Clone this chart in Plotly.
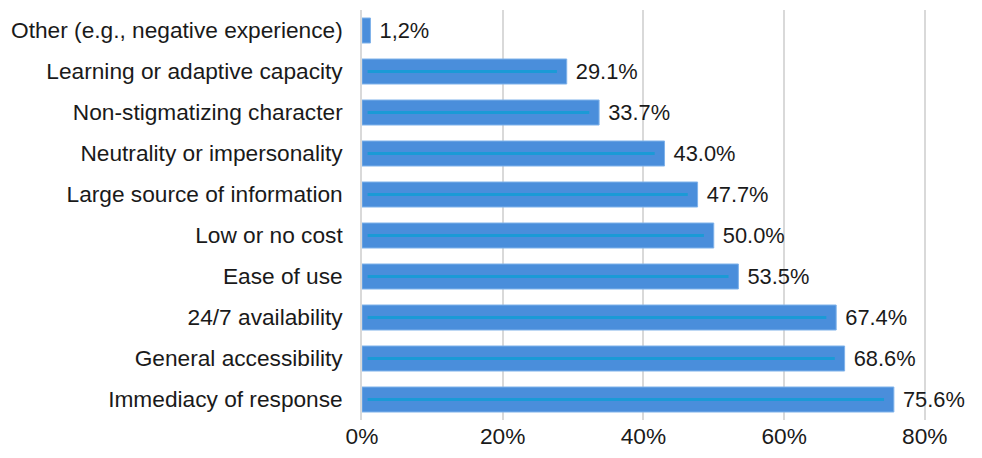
import plotly.graph_objects as go

categories = [
    "Other (e.g., negative experience)",
    "Learning or adaptive capacity",
    "Non-stigmatizing character",
    "Neutrality or impersonality",
    "Large source of information",
    "Low or no cost",
    "Ease of use",
    "24/7 availability",
    "General accessibility",
    "Immediacy of response",
]
values = [1.2, 29.1, 33.7, 43.0, 47.7, 50.0, 53.5, 67.4, 68.6, 75.6]
value_labels = ["1,2%", "29.1%", "33.7%", "43.0%", "47.7%", "50.0%", "53.5%", "67.4%", "68.6%", "75.6%"]
tick_vals = [0, 20, 40, 60, 80]
tick_text = ["0%", "20%", "40%", "60%", "80%"]

BAR = "#4a8edb"
LINE = "#1b9ad6"
FONT = "Liberation Sans, Arial, sans-serif"
FS = 22.7

fig = go.Figure()
fig.add_trace(go.Bar(
    y=categories, x=values, orientation="h",
    marker=dict(color=BAR, line=dict(color="#7fb2ea", width=1)),
    width=0.61,
    text=value_labels, texttemplate="\u00a0%{text}", textposition="outside",
    textfont=dict(family=FONT, size=FS, color="#1a1a1a"),
    cliponaxis=False, hoverinfo="skip",
))
# thin inner highlight line drawn within each bar
inner_base = 0.8
inner_len = [max(v - 2.2, 0) if v > 5 else 0 for v in values]
fig.add_trace(go.Bar(
    y=categories, x=inner_len, base=inner_base, orientation="h",
    marker=dict(color=LINE, line=dict(width=0)),
    width=0.07, hoverinfo="skip",
))

fig.update_layout(
    width=982, height=458,
    margin=dict(l=354, r=30, t=2, b=46, autoexpand=False),
    paper_bgcolor="white", plot_bgcolor="white",
    barmode="overlay", showlegend=False,
    font=dict(family=FONT, size=FS, color="#1a1a1a"),
    xaxis=dict(
        range=[0, 85], tickvals=tick_vals, ticktext=tick_text,
        showgrid=True, gridcolor="#d9d9d9", gridwidth=1.5,
        zeroline=False, showline=False, ticks="", automargin=False,
        tickfont=dict(family=FONT, size=FS, color="#1a1a1a"),
    ),
    yaxis=dict(
        autorange="reversed", showgrid=False, zeroline=False,
        showline=True, linecolor="#d9d9d9", linewidth=1.5,
        ticks="", ticklabelstandoff=13, automargin=False,
        tickfont=dict(family=FONT, size=FS, color="#1a1a1a"),
    ),
)

fig.write_html("out.html")
